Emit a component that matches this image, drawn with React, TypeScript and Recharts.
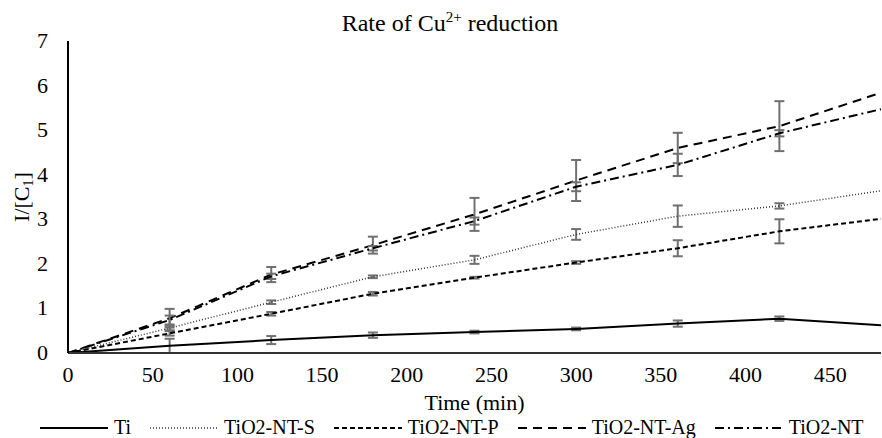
import { CartesianGrid, ErrorBar, Legend, Line, LineChart, XAxis, YAxis } from "recharts"

const times = [0, 60, 120, 180, 240, 300, 360, 420, 480]

const ti = [0, 0.16, 0.29, 0.4, 0.47, 0.54, 0.66, 0.77, 0.62]
const tiErr = [null, 0.16, 0.09, 0.06, 0.03, 0.03, 0.07, 0.05, null]

const ntS = [0, 0.56, 1.14, 1.71, 2.09, 2.66, 3.07, 3.3, 3.64]
const ntSErr = [null, 0.05, 0.04, 0.03, 0.09, 0.12, 0.24, 0.06, null]

const ntP = [0, 0.44, 0.88, 1.33, 1.69, 2.03, 2.35, 2.73, 3.01]
const ntPErr = [null, 0.05, 0.04, 0.04, 0.02, 0.03, 0.18, 0.27, null]

const ntAg = [0, 0.78, 1.76, 2.42, 3.11, 3.87, 4.6, 5.09, 5.84]
const ntAgErr = [null, 0.21, 0.17, 0.19, 0.37, 0.46, 0.34, 0.56, null]

const nt = [0, 0.74, 1.72, 2.35, 2.96, 3.73, 4.22, 4.93, 5.47]
const ntErr = [null, 0.1, 0.06, 0.05, 0.08, 0.1, 0.25, 0.07, null]

const xTicks = [0, 50, 100, 150, 200, 250, 300, 350, 400, 450]
const yTicks = [0, 1, 2, 3, 4, 5, 6, 7]

const data = times.map((t, i) => ({
  time: t,
  ti: ti[i],
  tiErr: tiErr[i],
  ntS: ntS[i],
  ntSErr: ntSErr[i],
  ntP: ntP[i],
  ntPErr: ntPErr[i],
  ntAg: ntAg[i],
  ntAgErr: ntAgErr[i],
  nt: nt[i],
  ntErr: ntErr[i],
}))

const series = [
  { key: "ti", err: "tiErr", name: "Ti", dash: undefined, width: 2, color: "#000" },
  { key: "ntS", err: "ntSErr", name: "TiO2-NT-S", dash: "1 2", width: 1.5, color: "#333" },
  { key: "ntP", err: "ntPErr", name: "TiO2-NT-P", dash: "5 3", width: 2, color: "#000" },
  { key: "ntAg", err: "ntAgErr", name: "TiO2-NT-Ag", dash: "9 6", width: 2, color: "#000" },
  { key: "nt", err: "ntErr", name: "TiO2-NT", dash: "9 4 2 4", width: 2, color: "#000" },
]

const font = '"Liberation Serif", "Times New Roman", serif'

function XTick(props: any) {
  const { x, y, payload } = props
  return (
    <text x={x} y={y} dy={17} textAnchor="middle" fontFamily={font} fontSize={22} fill="#000">
      {payload.value}
    </text>
  )
}

function YTick(props: any) {
  const { x, y, payload } = props
  return (
    <text x={x} y={y} dy={7} textAnchor="end" fontFamily={font} fontSize={22} fill="#000">
      {payload.value}
    </text>
  )
}

function YLabel(props: any) {
  const vb = props.viewBox || { y: 41, height: 312 }
  const cy = vb.y + vb.height / 2
  return (
    <text
      x={21}
      y={cy}
      transform={`rotate(-90 21 ${cy})`}
      textAnchor="middle"
      dominantBaseline="central"
      fontFamily={font}
      fontSize={22}
      fill="#000"
    >
      I/[C
      <tspan baselineShift="sub" fontSize={14}>1</tspan>
      <tspan>]</tspan>
    </text>
  )
}

function renderLegend() {
  return (
    <div
      style={{
        display: "flex",
        alignItems: "center",
        paddingLeft: 40,
        paddingTop: 9,
        fontFamily: font,
        fontSize: 20,
        color: "#000",
        height: 30,
        boxSizing: "border-box",
        whiteSpace: "nowrap",
      }}
    >
      {series.map((s) => (
        <div key={s.key} style={{ display: "flex", alignItems: "center", marginRight: 19, flexShrink: 0 }}>
          <svg width={68} height={10}>
            <line
              x1={0}
              y1={5}
              x2={68}
              y2={5}
              stroke={s.color}
              strokeWidth={s.width}
              strokeDasharray={s.dash}
            />
          </svg>
          <span style={{ marginLeft: 6 }}>{s.name}</span>
        </div>
      ))}
    </div>
  )
}

export default function App() {
  return (
    <div style={{ position: "absolute", left: 0, top: 0, width: 882, height: 438, background: "#fff" }}>
      <div
        style={{
          position: "absolute",
          left: 0,
          width: 900,
          top: 9,
          textAlign: "center",
          fontFamily: font,
          fontSize: 24,
          color: "#000",
        }}
      >
        Rate of Cu<sup style={{ fontSize: 15 }}>2+</sup> reduction
      </div>
      <LineChart
        width={882}
        height={438}
        data={data}
        margin={{ top: 41, right: 1, left: 28, bottom: 0 }}
        style={{ fontFamily: font }}
      >
        <CartesianGrid stroke="none" />
        <XAxis
          dataKey="time"
          type="number"
          domain={[0, 480]}
          ticks={xTicks}
          allowDataOverflow
          tickLine={false}
          tickSize={6}
          tickMargin={6}
          height={55}
          axisLine={{ stroke: "#333", strokeWidth: 2 }}
          tick={<XTick />}
          label={{
            value: "Time (min)",
            position: "insideBottom",
            offset: -2,
            fill: "#000",
            fontSize: 22,
            fontFamily: font,
          }}
        />
        <YAxis
          type="number"
          domain={[0, 7]}
          ticks={yTicks}
          width={40}
          tickLine={false}
          tickSize={6}
          tickMargin={14}
          axisLine={{ stroke: "#000", strokeWidth: 2 }}
          tick={<YTick />}
          label={<YLabel />}
        />
        <Legend
          verticalAlign="bottom"
          height={30}
          content={renderLegend}
          wrapperStyle={{ left: 0, width: 882 }}
        />
        {series.map((s) => (
          <Line
            key={s.key}
            type="linear"
            dataKey={s.key}
            name={s.name}
            stroke={s.color}
            strokeWidth={s.width}
            strokeDasharray={s.dash}
            dot={false}
            activeDot={false}
            isAnimationActive={false}
          >
            <ErrorBar dataKey={s.err} width={5} stroke="#707070" strokeWidth={2} direction="y" />
          </Line>
        ))}
      </LineChart>
    </div>
  )
}
